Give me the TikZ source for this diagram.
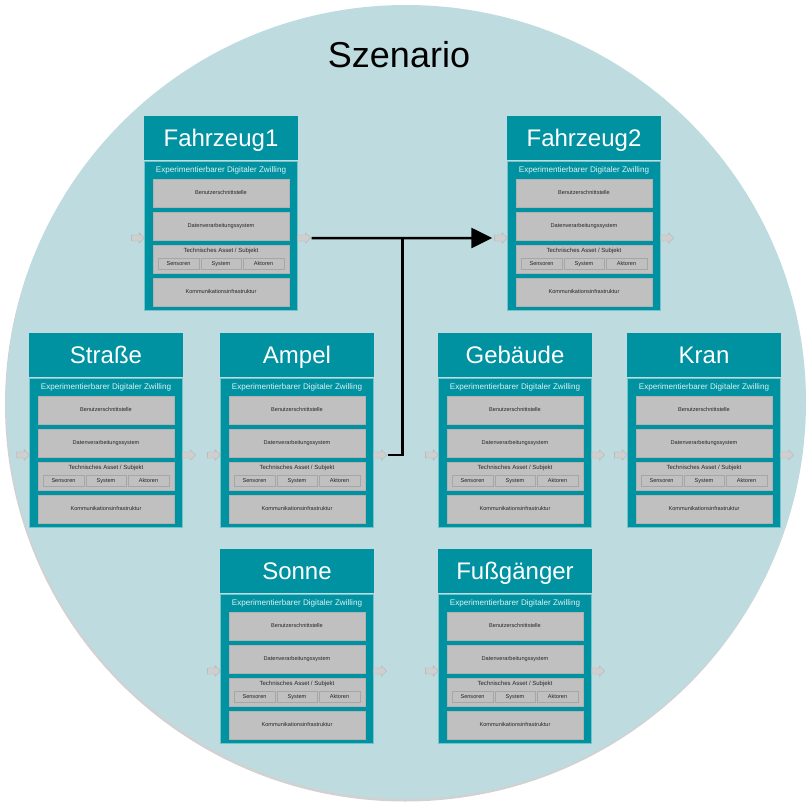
\documentclass[tikz,border=0pt]{standalone}
\usepackage{fontspec}
\setmainfont{Liberation Sans}
\usetikzlibrary{positioning,shapes.arrows,arrows.meta}

\definecolor{twinteal}{RGB}{0,146,160}
\definecolor{scenebg}{RGB}{190,219,224}
\definecolor{boxgray}{RGB}{192,192,192}

\tikzset{
	scene/.style = {fill=scenebg},
	scenetitle/.style = {anchor=base, inner sep=0pt, font=\fontsize{36}{36}\selectfont},
	titlebox/.style = {rectangle, fill=twinteal, text=white, anchor=north west,
		minimum width=154pt, minimum height=44pt, inner sep=0pt, outer sep=0pt,
		text height=17pt, text depth=0pt, font=\fontsize{24}{24}\selectfont},
	bodybox/.style = {rectangle, fill=twinteal, draw=twinteal!55!white, line width=0.6pt,
		minimum width=153.4pt, minimum height=149.4pt, inner sep=0pt, outer sep=0pt},
	twinlabel/.style = {inner sep=0pt, text=white!88!twinteal, font=\fontsize{8.1}{8.1}\selectfont},
	graybox/.style = {rectangle, fill=boxgray, draw=black!30, line width=0.5pt,
		minimum width=136pt, minimum height=28pt, inner sep=0pt, outer sep=0pt,
		text height=4pt, text depth=1pt, text=black!85, font=\fontsize{5.6}{6}\selectfont},
	boxtext/.style = {inner sep=0pt, text=black!85, font=\fontsize{6}{6}\selectfont},
	minibox/.style = {rectangle, fill=boxgray, draw=black!35, line width=0.5pt,
		minimum width=40.5pt, minimum height=11pt, inner sep=0pt, outer sep=0pt,
		text height=4pt, text depth=1pt, text=black!85, font=\fontsize{5.6}{6}\selectfont},
	grayarrow/.style = {single arrow, single arrow head extend=2.2pt, fill=black!19, draw=black!30,
		line width=0.4pt, minimum height=13pt, inner sep=0pt, outer sep=0pt,
		text height=3pt, text depth=2.6pt, text width=0pt},
	link/.style = {draw, line width=2.5pt},
	linktip/.style = {link, -{Triangle[length=21pt, width=20pt]}}
}

% #1 name, #2 x, #3 y, #4 title
\newcommand{\twin}[4]{
	\node [titlebox] (#1) at (#2,#3) {#4};
	\node [bodybox, below = 1pt of #1] (#1-body) {};
	\node [twinlabel, below = 5pt of #1-body.north] (#1-exp) {Experimentierbarer Digitaler Zwilling};
	\node [graybox, below = 18pt of #1-body.north] (#1-ui) {Benutzerschnittstelle};
	\node [graybox, below = 5pt of #1-ui] (#1-dv) {Datenverarbeitungssystem};
	\node [graybox, below = 5pt of #1-dv] (#1-ta) {};
	\node [graybox, below = 5pt of #1-ta] (#1-ki) {Kommunikationsinfrastruktur};
	\node [boxtext, below = 3pt of #1-ta.north] (#1-tatext) {Technisches Asset / Subjekt};
	\node [minibox, below = 13pt of #1-ta.north] (#1-sys) {System};
	\node [minibox, left = 2pt of #1-sys] (#1-sen) {Sensoren};
	\node [minibox, right = 2pt of #1-sys] (#1-akt) {Aktoren};
	\node [grayarrow, anchor=east, yshift=2pt] (#1-in) at (#1-body.west |- #1-dv.south) {};
	\node [grayarrow, anchor=west, yshift=2pt] (#1-out) at (#1-body.east |- #1-dv.south) {};
}

\begin{document}
\begin{tikzpicture}[x=1pt, y=-1pt]
	\useasboundingbox (0,0) rectangle (808,809);
	
	%scene
	\fill [black!18] (405,404.5) ellipse [x radius=400pt, y radius=397pt];
	\path [scene] (406,402) ellipse [x radius=400pt, y radius=397pt];
	\node [scenetitle] (title) at (399,67) {Szenario};
	
	%twins
	\twin{fz1}{144}{116}{Fahrzeug1}
	\twin{fz2}{507}{116}{Fahrzeug2}
	\twin{str}{29}{333}{Straße}
	\twin{amp}{220}{333}{Ampel}
	\twin{geb}{438}{333}{Gebäude}
	\twin{kran}{627}{333}{Kran}
	\twin{son}{220}{549}{Sonne}
	\twin{fuss}{438}{549}{Fußgänger}
	
	%links
	\coordinate [right = 92pt of fz1-out.east] (join);
	\path [linktip, shorten <=1pt, shorten >=2pt] (fz1-out.east) -- (fz2-in.west);
	\path [link, shorten <=1pt] (amp-out.east) -| (join);
	
\end{tikzpicture}
\end{document}
